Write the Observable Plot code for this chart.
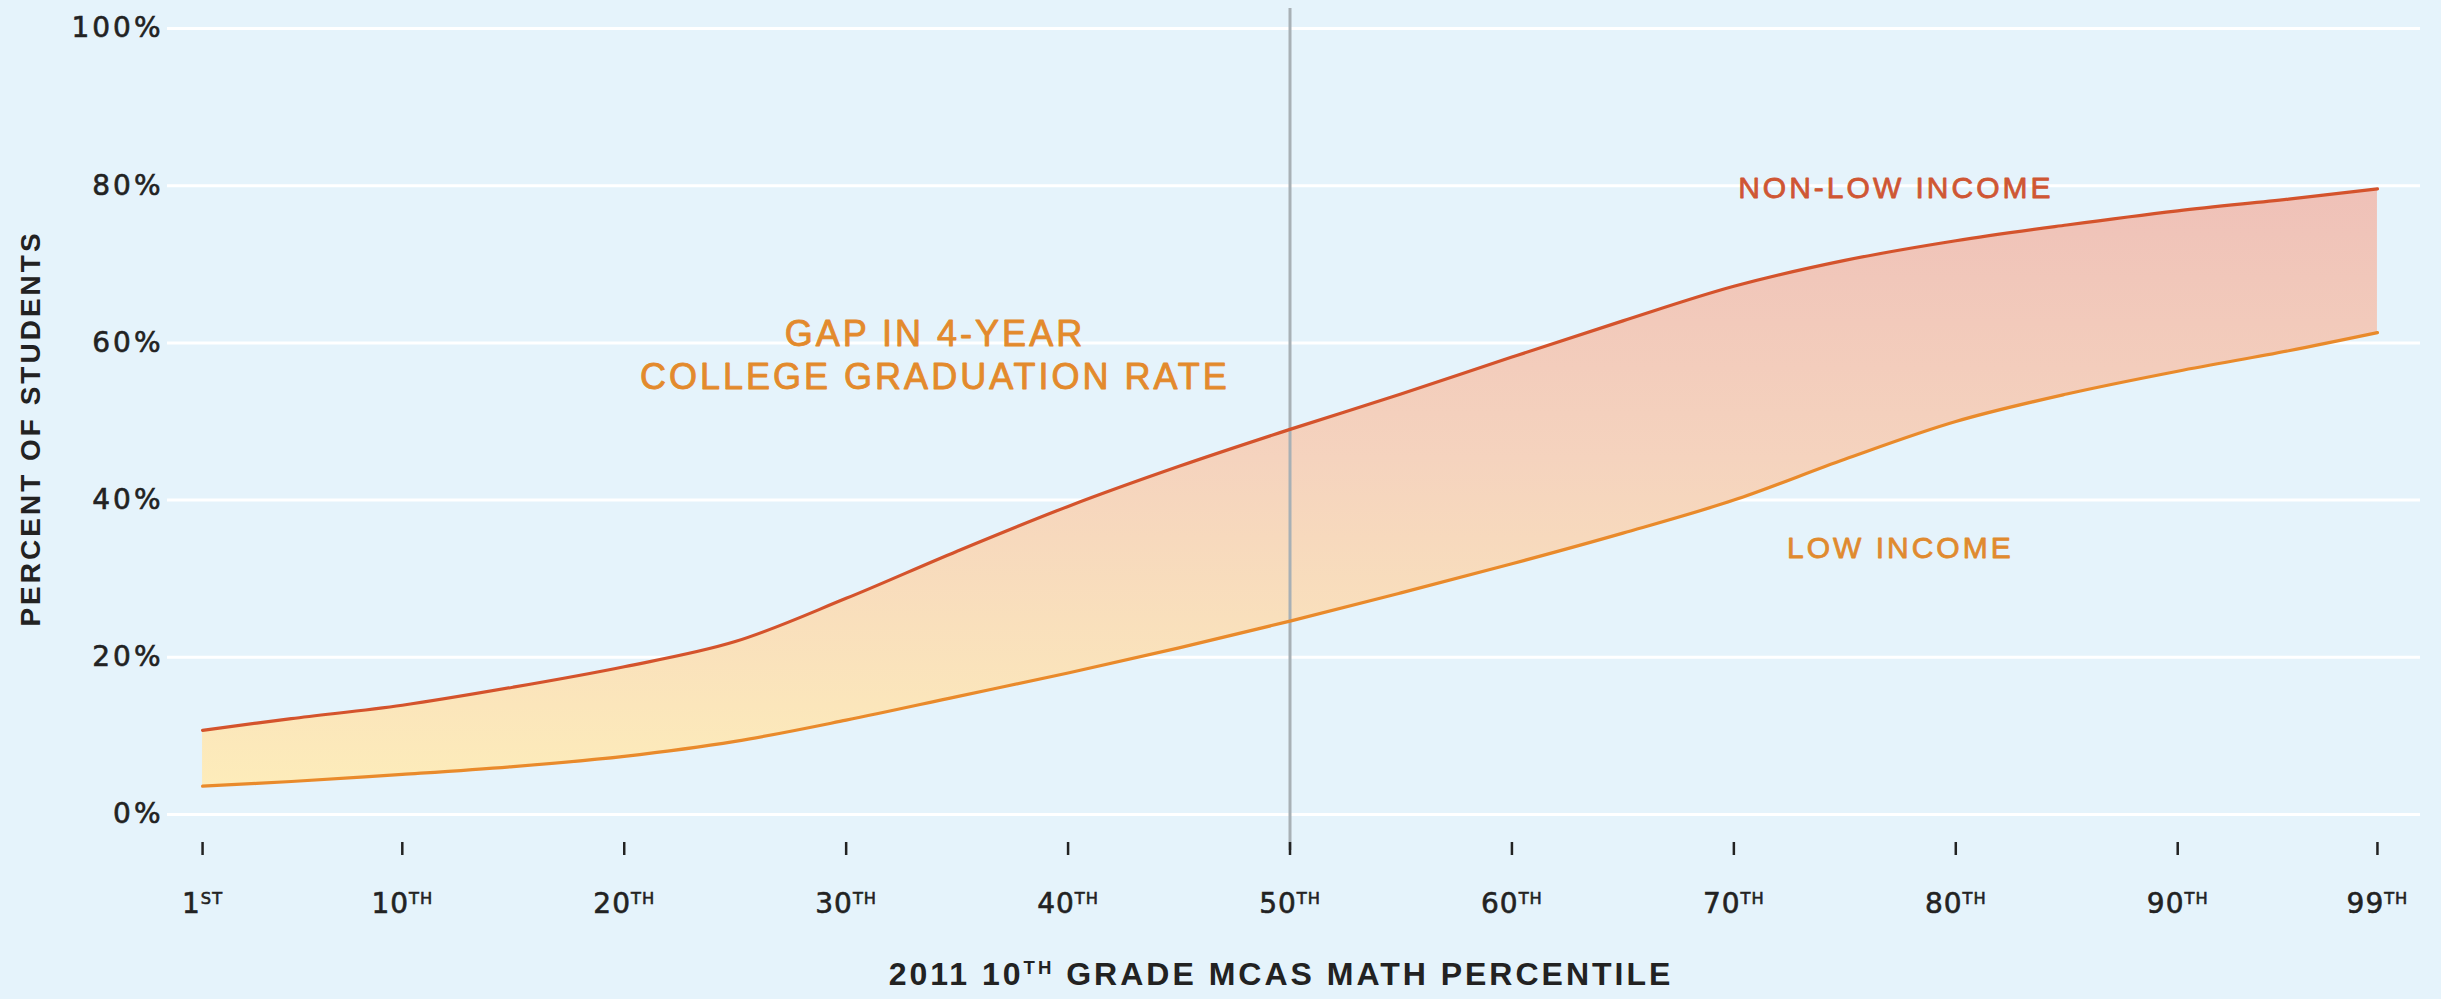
<!DOCTYPE html>
<html><head><meta charset="utf-8">
<script src="https://cdn.jsdelivr.net/npm/d3@7"></script>
<script src="https://cdn.jsdelivr.net/npm/@observablehq/plot@0.6"></script>
<style>
html,body{margin:0;padding:0;background:#e5f3fb;}
#chart{width:2441px;height:999px;overflow:hidden;}
</style></head><body><div id="chart"></div>
<script>
// ---- data ----
const percentiles  = [1, 5, 10, 15, 20, 25, 30, 35, 40, 45, 50, 55, 60, 65, 70, 75, 80, 85, 90, 95, 99];
const nonLowIncome = [10.7, 12.2, 13.9, 16.2, 18.8, 22.0, 27.5, 33.5, 39.2, 44.3, 49.0, 53.5, 58.2, 62.8, 67.2, 70.5, 73.0, 75.0, 76.8, 78.3, 79.6];
const lowIncome    = [3.6, 4.2, 5.1, 6.1, 7.4, 9.3, 12.0, 15.0, 18.0, 21.2, 24.6, 28.2, 31.9, 35.8, 40.0, 45.2, 50.0, 53.5, 56.4, 59.0, 61.3];
const xTicks      = [1, 10, 20, 30, 40, 50, 60, 70, 80, 90, 99];
const xTickLabels = ["1ST", "10TH", "20TH", "30TH", "40TH", "50TH", "60TH", "70TH", "80TH", "90TH", "99TH"];
const yTicks      = [0, 20, 40, 60, 80, 100];
const yTickLabels = ["0%", "20%", "40%", "60%", "80%", "100%"];
const medianPercentile = [50];
const yTitle = "PERCENT OF STUDENTS";
const xTitleParts = ["2011 10", "TH", " GRADE MCAS MATH PERCENTILE"];
const gapLabel = [{x: 34.0, y: 58.6, text: "GAP IN 4-YEAR\nCOLLEGE GRADUATION RATE"}];
const nonLowLabel = [{x: 77.3, y: 79.6, text: "NON-LOW INCOME"}];
const lowLabel = [{x: 77.5, y: 33.8, text: "LOW INCOME"}];

const data = percentiles.map((p, i) => ({p, hi: nonLowIncome[i], lo: lowIncome[i]}));
const xLabelMap = new Map(xTicks.map((t, i) => [t, xTickLabels[i]]));
const yLabelMap = new Map(yTicks.map((t, i) => [t, yTickLabels[i]]));

const sans = "'Liberation Sans', Arial, sans-serif";
const tickFont = "'DejaVu Sans', sans-serif";

const gradientDefs = () => {
  const defs = d3.create("svg:defs");
  const g = defs.append("linearGradient").attr("id", "gapGradient")
    .attr("x1", 0).attr("y1", 0).attr("x2", 0).attr("y2", 1);
  g.append("stop").attr("offset", "0%").attr("stop-color", "#efc1b8");
  g.append("stop").attr("offset", "45%").attr("stop-color", "#f5d3be");
  g.append("stop").attr("offset", "100%").attr("stop-color", "#fdecba");
  return defs.node();
};

const plot = Plot.plot({
  width: 2441, height: 999,
  marginLeft: 167, marginRight: 21, marginTop: 28, marginBottom: 185,
  style: {background: "#e5f3fb", fontFamily: sans, letterSpacing: "3px", overflow: "visible"},
  x: {domain: [-0.58, 100.94]},
  y: {domain: [0, 100]},
  marks: [
    gradientDefs,
    Plot.ruleY(yTicks, {stroke: "#ffffff", strokeWidth: 3}),
    Plot.areaY(data, {x: "p", y1: "lo", y2: "hi", fill: "url(#gapGradient)", curve: "catmull-rom"}),
    Plot.ruleX(medianPercentile, {stroke: "#a8b0b5", strokeWidth: 3, insetTop: -20, insetBottom: -36}),
    Plot.line(data, {x: "p", y: "hi", stroke: "#d4532c", strokeWidth: 3.2, curve: "catmull-rom"}),
    Plot.line(data, {x: "p", y: "lo", stroke: "#e98a2b", strokeWidth: 3.2, curve: "catmull-rom"}),
    Plot.axisY(yTicks, {tickSize: 0, tickPadding: 4, tickFormat: d => yLabelMap.get(d), fontSize: 28, fontFamily: tickFont, color: "#222", label: null}),
    Plot.axisX(xTicks, {tickSize: 13, dy: 28, tickPadding: 38, strokeWidth: 2.5, tickFormat: d => xLabelMap.get(d), fontSize: 28, fontFamily: tickFont, color: "#222", label: null}),
    Plot.text([yTitle], {frameAnchor: "left", textAnchor: "middle", rotate: -90, dx: -136, dy: 7, fontSize: 28, fontWeight: "bold", fill: "#222"}),
    Plot.text([xTitleParts.join("")], {frameAnchor: "bottom", dx: -13, dy: 170, fontSize: 32, fontWeight: "bold", fill: "#222"}),
    Plot.text(gapLabel, {x: "x", y: "y", text: "text", fontSize: 36, lineHeight: 1.2, fill: "#e38a2c", stroke: "#e38a2c", strokeWidth: 0.9}),
    Plot.text(nonLowLabel, {x: "x", y: "y", text: "text", fontSize: 30, fill: "#cf5633", stroke: "#cf5633", strokeWidth: 0.8}),
    Plot.text(lowLabel, {x: "x", y: "y", text: "text", fontSize: 30, fill: "#e08a2e", stroke: "#e08a2e", strokeWidth: 0.8})
  ]
});

document.getElementById("chart").appendChild(plot);

// superscript ordinal suffixes
function superscript(el, base, sup, rest) {
  const t = d3.select(el);
  t.text(null);
  t.append("tspan").text(base);
  t.append("tspan").attr("font-size", "0.58em").attr("dy", "-0.55em").text(sup);
  if (rest) t.append("tspan").attr("dy", "0.319em").text(rest);
}
d3.select(plot).selectAll('g[aria-label="x-axis tick label"] text').each(function () {
  const m = this.textContent.match(/^(\d+)(ST|ND|RD|TH)$/);
  if (m) superscript(this, m[1], m[2]);
  this.style.letterSpacing = "1px";
});
d3.select(plot).selectAll('g[aria-label="x-axis tick label"], g[aria-label="y-axis tick label"]')
  .attr("stroke", "#222").attr("stroke-width", 0.6);
d3.select(plot).selectAll("text").each(function () {
  if (this.textContent === xTitleParts.join("")) superscript(this, xTitleParts[0], xTitleParts[1], xTitleParts[2]);
});
</script></body></html>
